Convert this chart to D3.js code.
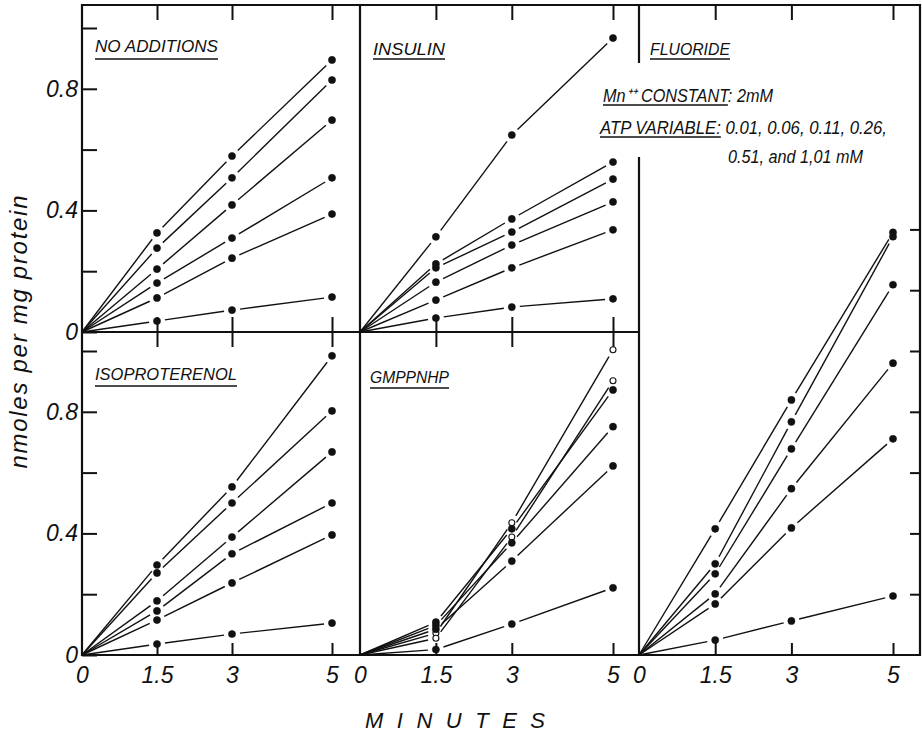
<!DOCTYPE html>
<html>
<head>
<meta charset="utf-8">
<script src="https://cdn.jsdelivr.net/npm/d3@7"></script>
<style>
body { margin:0; background:#fff; }
svg text { font-family: "Liberation Sans Narrow", "Liberation Sans", Arial, sans-serif; font-style: italic; fill:#111; }
</style>
</head>
<body>
<div id="mainchart"></div>
<script>
// Datos (nmoles por mg proteina), una fila por concentracion de ATP
// valores en 0, 1.5, 3 y 5 minutos
var minutes = [0, 1.5, 3, 5];
var minuteLabels = ["0", "1.5", "3", "5"];
var atpLevels = ["1.01", "0.51", "0.26", "0.11", "0.06", "0.01"];

var noAdditions = [
	[0, 0.326, 0.579, 0.895],
	[0, 0.276, 0.507, 0.829],
	[0, 0.207, 0.418, 0.697],
	[0, 0.161, 0.309, 0.507],
	[0, 0.112, 0.243, 0.388],
	[0, 0.036, 0.072, 0.115]
];
var insulin = [
	[0, 0.313, 0.648, 0.967],
	[0, 0.224, 0.372, 0.559],
	[0, 0.211, 0.329, 0.503],
	[0, 0.164, 0.286, 0.428],
	[0, 0.105, 0.211, 0.336],
	[0, 0.046, 0.082, 0.109]
];
var isoproterenol = [
	[0, 0.296, 0.553, 0.984],
	[0, 0.270, 0.500, 0.803],
	[0, 0.178, 0.388, 0.668],
	[0, 0.145, 0.333, 0.500],
	[0, 0.115, 0.237, 0.395],
	[0, 0.036, 0.069, 0.105]
];
var gmppnhp = [
	[0, 0.072, 0.435, 1.004],
	[0, 0.055, 0.388, 0.902],
	[0, 0.108, 0.415, 0.872],
	[0, 0.097, 0.369, 0.751],
	[0, 0.085, 0.309, 0.622],
	[0, 0.018, 0.102, 0.221]
];
var gmppnhpOpen = [true, true, false, false, false, false];
var fluoride = [
	[0, 0.415, 0.839, 1.390],
	[0, 0.300, 0.767, 1.376],
	[0, 0.267, 0.678, 1.218],
	[0, 0.201, 0.547, 0.960],
	[0, 0.168, 0.418, 0.711],
	[0, 0.049, 0.112, 0.194]
];

var yTicks = [0, 0.2, 0.4, 0.6, 0.8, 1.0];
var yTickLabels = {"0": "0", "0.4": "0.4", "0.8": "0.8"};
var fluorideTicks = [0.2, 0.4, 0.6, 0.8, 1.0, 1.2, 1.4];

var yTitle = "nmoles per mg protein";
var xTitle = "MINUTES";
// notas: [texto, parte subrayada]
var noteLines = [
	["Mn\u207A\u207A CONSTANT: 2mM", "Mn\u207A\u207A CONSTANT"],
	["ATP  VARIABLE: 0.01, 0.06, 0.11, 0.26,", "ATP  VARIABLE"],
	["0.51, and 1,01 mM", ""]
];

// Escalas
var width = 922, height = 733;
var xL = d3.scaleLinear().domain([0, 5]).range([82, 332]);
var xM = d3.scaleLinear().domain([0, 5]).range([360, 613]);
var xR = d3.scaleLinear().domain([0, 5]).range([639, 893]);
var yTop = d3.scaleLinear().domain([0, 1]).range([332, 28]);
var yBot = d3.scaleLinear().domain([0, 1]).range([655, 351]);

var frameTop = 5, frameRight = 920;

var svg = d3.select("#mainchart").append("svg")
	.attr("width", width)
	.attr("height", height);

// Marco de los paneles
var frame = svg.append("g").attr("fill", "none").attr("stroke", "#111").attr("stroke-width", 2.2);
frame.append("path").attr("d", "M" + xL(0) + "," + frameTop + "H" + frameRight + "V" + yBot(0) + "H" + xL(0) + "Z");
frame.append("path").attr("d", "M" + xL(0) + "," + yTop(0) + "H" + xR(0));
frame.append("path").attr("d", "M" + xM(0) + "," + frameTop + "V" + yBot(0));
frame.append("path").attr("d", "M" + xR(0) + "," + frameTop + "V63M" + xR(0) + ",157V" + yBot(0));

function styleAxis(g) {
	g.select(".domain").remove();
	g.selectAll(".tick line").attr("stroke", "#111").attr("stroke-width", 2);
	g.selectAll(".tick text")
		.attr("fill", "#111")
		.style("font-size", "23px");
}

// Ejes y (izquierda), ticks hacia adentro
[yTop, yBot].forEach(function(y) {
	svg.append("g")
		.attr("transform", "translate(" + xL(0) + ",0)")
		.call(d3.axisLeft(y).tickValues(yTicks).tickSizeInner(-15).tickSizeOuter(0).tickPadding(4)
			.tickFormat(function(d) { return yTickLabels[String(+d.toFixed(1))] || ""; }))
		.call(styleAxis);
});

// Eje y derecho del panel fluoruro (sin etiquetas)
svg.append("g")
	.attr("transform", "translate(" + frameRight + ",0)")
	.call(d3.axisRight(yBot).tickValues(fluorideTicks).tickSizeInner(-10).tickSizeOuter(0).tickFormat(""))
	.call(styleAxis);

// Ejes x
[xL, xM, xR].forEach(function(x) {
	// abajo, con etiquetas
	svg.append("g")
		.attr("transform", "translate(0," + yBot(0) + ")")
		.call(d3.axisBottom(x).tickValues(minutes).tickSizeInner(-12).tickSizeOuter(0).tickPadding(12)
			.tickFormat(function(d, i) { return minuteLabels[i]; }))
		.call(styleAxis)
		.selectAll(".tick").filter(function(d) { return d === 0; }).select("line").remove();
	// arriba
	svg.append("g")
		.attr("transform", "translate(0," + frameTop + ")")
		.call(d3.axisTop(x).tickValues(minutes.slice(1)).tickSizeInner(-15).tickSizeOuter(0).tickFormat(""))
		.call(styleAxis);
});
// ticks que cruzan la linea media
[xL, xM].forEach(function(x) {
	svg.append("g")
		.attr("transform", "translate(0," + yTop(0) + ")")
		.call(d3.axisBottom(x).tickValues(minutes.slice(1)).tickSizeInner(15).tickSizeOuter(0).tickFormat(""))
		.call(styleAxis)
		.selectAll(".tick line").attr("y1", -15);
});

// Paneles
var panels = [
	{label: "NO ADDITIONS", data: noAdditions, x: xL, y: yTop, lx: 95, ly: 52, lw: 123, uy: 59},
	{label: "INSULIN", data: insulin, x: xM, y: yTop, lx: 373, ly: 55, lw: 72, uy: 59},
	{label: "ISOPROTERENOL", data: isoproterenol, x: xL, y: yBot, lx: 95, ly: 380, lw: 142, uy: 386},
	{label: "GMPPNHP", data: gmppnhp, x: xM, y: yBot, lx: 370, ly: 383, lw: 79, uy: 388, open: gmppnhpOpen},
	{label: "FLUORIDE", data: fluoride, x: xR, y: yBot, lx: 650, ly: 55, lw: 80, uy: 59}
];

var gap = 8; // hueco entre linea y punto

function underline(x, w, uy) {
	svg.append("line")
		.attr("x1", x).attr("x2", x + w)
		.attr("y1", uy).attr("y2", uy)
		.attr("stroke", "#111").attr("stroke-width", 1.3);
}

function underlined(x, y, txt, w, uy, size) {
	var t = svg.append("text")
		.attr("x", x).attr("y", y)
		.attr("textLength", w).attr("lengthAdjust", "spacingAndGlyphs")
		.style("font-size", size + "px")
		.text(txt);
	if (uy) underline(x, w, uy);
	return t;
}

panels.forEach(function(p) {
	var g = svg.append("g");
	p.data.forEach(function(vals, s) {
		var pts = vals.map(function(v, i) { return [p.x(minutes[i]), p.y(v)]; });
		var segs = d3.pairs(pts).map(function(pr, i) {
			var dx = pr[1][0] - pr[0][0], dy = pr[1][1] - pr[0][1];
			var len = Math.sqrt(dx * dx + dy * dy);
			var a = i > 0 ? gap / len : 0, b = gap / len;
			return {x1: pr[0][0] + dx * a, y1: pr[0][1] + dy * a, x2: pr[1][0] - dx * b, y2: pr[1][1] - dy * b};
		});
		g.selectAll(null).data(segs).enter().append("line")
			.attr("x1", function(d) { return d.x1; })
			.attr("y1", function(d) { return d.y1; })
			.attr("x2", function(d) { return d.x2; })
			.attr("y2", function(d) { return d.y2; })
			.attr("stroke", "#111").attr("stroke-width", 1.4);
		var open = p.open && p.open[s];
		g.selectAll(null).data(pts.slice(1)).enter().append("circle")
			.attr("cx", function(d) { return d[0]; })
			.attr("cy", function(d) { return d[1]; })
			.attr("r", open ? 3 : 3.6)
			.attr("fill", open ? "#fff" : "#111")
			.attr("stroke", "#111").attr("stroke-width", open ? 1.1 : 0.5);
	});
	underlined(p.lx, p.ly, p.label, p.lw, p.uy, 17);
});

// Nota de condiciones; el subrayado termina donde termina la parte subrayada
var notePos = [{x: 603, y: 102, w: 170}, {x: 600, y: 134, w: 287}, {x: 728, y: 163, w: 135}];
noteLines.forEach(function(n, i) {
	var pos = notePos[i];
	var t = underlined(pos.x, pos.y, n[0], pos.w, null, 18);
	if (n[1]) {
		var end = t.node().getEndPositionOfChar(n[1].length - 1).x;
		underline(pos.x, end - pos.x, pos.y + 3);
	}
});

// Titulos de ejes
svg.append("text")
	.attr("transform", "translate(27,332) rotate(-90)")
	.attr("text-anchor", "middle")
	.attr("textLength", 273).attr("lengthAdjust", "spacing")
	.style("font-size", "24px")
	.text(yTitle);

svg.append("text")
	.attr("x", 365).attr("y", 728)
	.attr("textLength", 180).attr("lengthAdjust", "spacing")
	.style("font-size", "22px")
	.text(xTitle);
</script>
</body>
</html>
